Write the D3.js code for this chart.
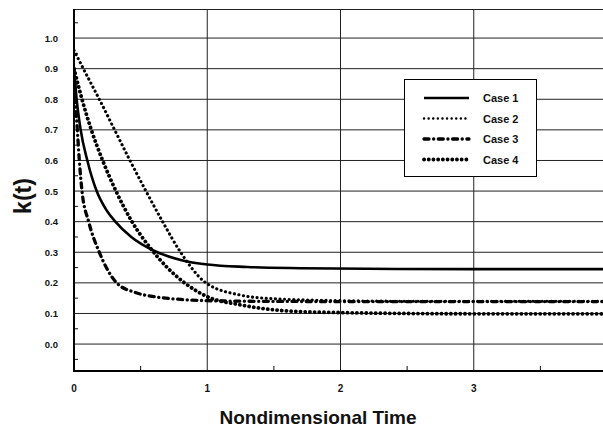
<!DOCTYPE html>
<html>
<head>
<meta charset="utf-8">
<script src="https://cdn.jsdelivr.net/npm/d3@7"></script>
<style>
  body { margin: 0; background: #fff; }
  text { font-family: Arial, "Liberation Sans", sans-serif; font-weight: bold; fill: #111; }
</style>
</head>
<body>
<svg id="chart" width="603" height="432"></svg>
<script>
// values
var case1_t = [0, 0.02, 0.05, 0.1, 0.17, 0.24, 0.31, 0.43, 0.6, 0.8, 1.0, 1.3, 1.7, 2.2, 3, 4];
var case1_k = [0.9, 0.8, 0.7, 0.6, 0.5, 0.44, 0.4, 0.35, 0.305, 0.275, 0.26, 0.252, 0.248, 0.246, 0.245, 0.245];

var case2_t = [0, 0.07, 0.19, 0.305, 0.42, 0.54, 0.665, 0.8, 0.99, 1.25, 1.5, 2.0, 2.5, 3, 4];
var case2_k = [0.96, 0.9, 0.8, 0.7, 0.6, 0.5, 0.4, 0.3, 0.2, 0.16, 0.148, 0.142, 0.14, 0.14, 0.14];

var case3_t = [0, 0.01, 0.025, 0.04, 0.06, 0.11, 0.19, 0.32, 0.45, 0.6, 0.8, 1.0, 1.3, 2, 4];
var case3_k = [0.9, 0.8, 0.7, 0.6, 0.5, 0.4, 0.3, 0.2, 0.17, 0.155, 0.146, 0.142, 0.14, 0.139, 0.139];

var case4_t = [0, 0.06, 0.13, 0.215, 0.315, 0.435, 0.58, 0.7, 0.83, 1.0, 1.25, 1.65, 2.0, 2.5, 3, 4];
var case4_k = [0.9, 0.8, 0.7, 0.6, 0.5, 0.4, 0.31, 0.25, 0.2, 0.155, 0.128, 0.107, 0.103, 0.1, 0.099, 0.099];

var case_names = ["Case 1", "Case 2", "Case 3", "Case 4"];
var x_ticks = [0, 1, 2, 3, 4];
var y_ticks = [0.0, 0.1, 0.2, 0.3, 0.4, 0.5, 0.6, 0.7, 0.8, 0.9, 1.0];

var svg = d3.select("#chart");
var pLeft = 74, pRight = 607, pTop = 9, pBottom = 371;

var x = d3.scaleLinear().domain([0, 4]).range([pLeft, pRight]);
var y = d3.scaleLinear().domain([-0.088, 1.095]).range([pBottom, pTop]);

// line styles: width, dasharray
var styles = [
    {w: 2.6, dash: null},
    {w: 3.1, dash: "0.1 4.5"},
    {w: 3.3, dash: "5 4.6 0.1 4.6"},
    {w: 3.8, dash: "0.1 4.6"}
];

svg.append("clipPath").attr("id", "plotclip")
    .append("rect").attr("x", pLeft).attr("y", pTop).attr("width", pRight - pLeft).attr("height", pBottom - pTop);

// grid
svg.append("g").selectAll("line").data(y_ticks).enter().append("line")
    .attr("x1", pLeft).attr("x2", pRight)
    .attr("y1", function (d) { return y(d); }).attr("y2", function (d) { return y(d); })
    .attr("stroke", "#222").attr("stroke-width", 1);
svg.append("g").selectAll("line").data([1, 2, 3]).enter().append("line")
    .attr("x1", function (d) { return x(d); }).attr("x2", function (d) { return x(d); })
    .attr("y1", pTop).attr("y2", pBottom)
    .attr("stroke", "#222").attr("stroke-width", 1);

// top frame
svg.append("line").attr("x1", pLeft).attr("x2", pRight).attr("y1", pTop + 0.5).attr("y2", pTop + 0.5)
    .attr("stroke", "#222").attr("stroke-width", 1);

// minor ticks
var yMinor = d3.range(-0.05, 1.06, 0.1);
svg.append("g").selectAll("line").data(yMinor).enter().append("line")
    .attr("x1", pLeft).attr("x2", pLeft + 4)
    .attr("y1", function (d) { return y(d); }).attr("y2", function (d) { return y(d); })
    .attr("stroke", "#111").attr("stroke-width", 1);
svg.append("g").selectAll("line").data([0.5, 1.5, 2.5, 3.5]).enter().append("line")
    .attr("x1", function (d) { return x(d); }).attr("x2", function (d) { return x(d); })
    .attr("y1", pBottom).attr("y2", pBottom - 5)
    .attr("stroke", "#111").attr("stroke-width", 1);

// axes
svg.append("line").attr("x1", pLeft).attr("x2", pLeft).attr("y1", pTop).attr("y2", pBottom + 1)
    .attr("stroke", "#000").attr("stroke-width", 2);
svg.append("line").attr("x1", pLeft - 1).attr("x2", pRight).attr("y1", pBottom).attr("y2", pBottom)
    .attr("stroke", "#000").attr("stroke-width", 2);

// tick labels
svg.append("g").selectAll("text").data(y_ticks).enter().append("text")
    .attr("x", 58).attr("y", function (d) { return y(d) + 3.5; })
    .attr("text-anchor", "end").style("font-size", "9.5px")
    .text(function (d) { return d.toFixed(1); });
svg.append("g").selectAll("text").data(x_ticks).enter().append("text")
    .attr("x", function (d) { return x(d); }).attr("y", 392)
    .attr("text-anchor", "middle").style("font-size", "10px")
    .text(function (d) { return d; });

// titles
svg.append("text").attr("x", 318).attr("y", 424).attr("text-anchor", "middle")
    .style("font-size", "19px").text("Nondimensional Time");
svg.append("text").attr("transform", "translate(31,196) rotate(-90)").attr("text-anchor", "middle")
    .style("font-size", "23px").text("k(t)");

// curves
var line = d3.line()
    .x(function (d) { return x(d[0]); })
    .y(function (d) { return y(d[1]); })
    .curve(d3.curveMonotoneX);

var series = [d3.zip(case1_t, case1_k), d3.zip(case2_t, case2_k), d3.zip(case3_t, case3_k), d3.zip(case4_t, case4_k)];
var curves = svg.append("g").attr("clip-path", "url(#plotclip)");
series.forEach(function (s, i) {
    curves.append("path")
        .attr("d", line(s))
        .attr("fill", "none")
        .attr("stroke", "#000")
        .attr("stroke-width", styles[i].w)
        .attr("stroke-linecap", styles[i].dash ? "round" : "butt")
        .attr("stroke-dasharray", styles[i].dash);
});

// legend
var lg = svg.append("g");
lg.append("rect").attr("x", 404.5).attr("y", 79.5).attr("width", 132).attr("height", 97)
    .attr("fill", "#fff").attr("stroke", "#000").attr("stroke-width", 1);
case_names.forEach(function (n, i) {
    var ly = 98 + i * 20.5;
    lg.append("line").attr("x1", 424).attr("x2", 469).attr("y1", ly).attr("y2", ly)
        .attr("stroke", "#000")
        .attr("stroke-width", i == 1 ? 2.4 : styles[i].w)
        .attr("stroke-linecap", styles[i].dash ? "round" : "butt")
        .attr("stroke-dasharray", styles[i].dash);
    lg.append("text").attr("x", 483).attr("y", ly + 4).style("font-size", "11px").text(n);
});
</script>
</body>
</html>
